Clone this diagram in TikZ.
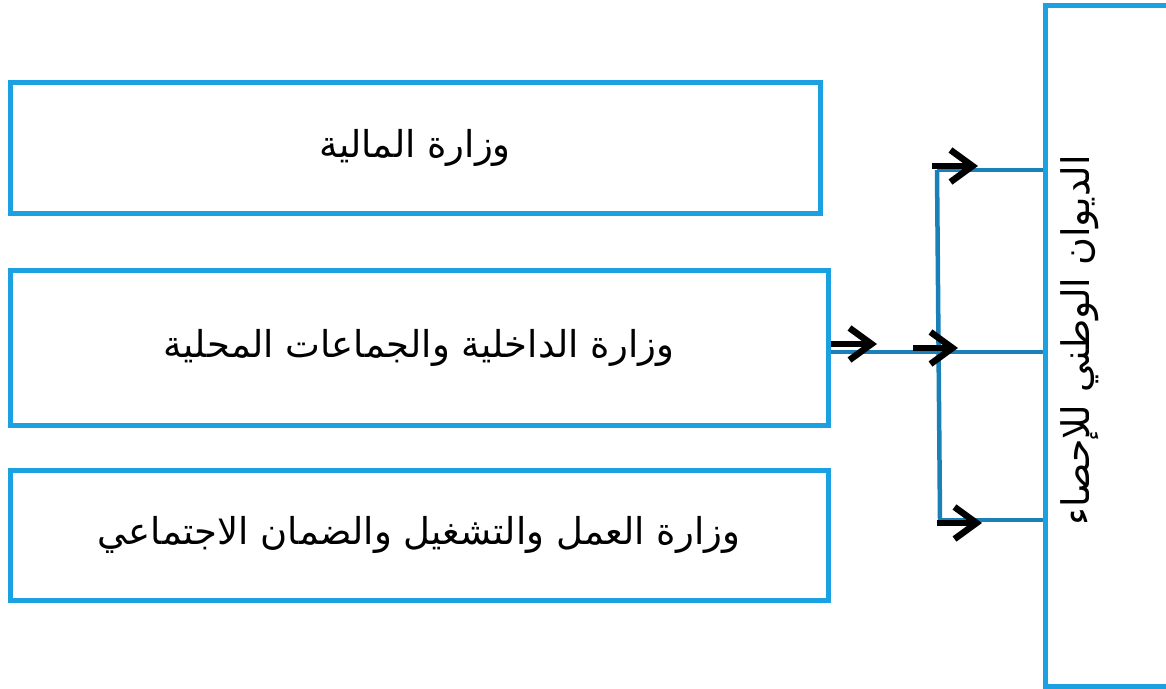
\documentclass[tikz,border=0pt]{standalone}
\usepackage{fontspec}
\newfontfamily\arabicfont[Script=Arabic]{DejaVu Sans}
\TeXXeTstate=1
\usetikzlibrary{arrows.meta}
\definecolor{boxblue}{HTML}{1BA1E2}
\definecolor{lineblue}{HTML}{1A80B8}
\tikzset{
  orgbox/.style={draw=boxblue, line width=5pt, fill=white, inner sep=0pt, font=\arabicfont\fontsize{37}{42}\selectfont},
  tree/.style={draw=lineblue, line width=4.5pt},
  blackarrow/.style={draw=black, line width=6.5pt, -{Straight Barb[length=22pt,width=32pt,line width=6.5pt]}}
}
\begin{document}
\begin{tikzpicture}[x=1pt,y=-1pt]
\useasboundingbox (0,0) rectangle (1166,688);
\clip (0,0) rectangle (1166,688);
\node[orgbox, minimum width=810pt, minimum height=131pt] (b1) at (415,147.5) {\beginR وزارة المالية\endR};
\node[orgbox, minimum width=818pt, minimum height=155pt] (b2) at (419,347.5) {\beginR وزارة الداخلية والجماعات المحلية\endR};
\node[orgbox, minimum width=818pt, minimum height=130pt] (b3) at (419,535) {\beginR وزارة العمل والتشغيل والضمان الاجتماعي\endR};
\node[orgbox, minimum width=150pt, minimum height=681pt] (ons) at (1120,345.5) {};
\node[font=\arabicfont\fontsize{38}{42}\selectfont, rotate=90] (onst) at (1080,340) {\beginR الديوان الوطني للإحصاء\endR};
% tree coordinates
\coordinate (jt) at (937,170);
\coordinate (jm) at (940,352);
\coordinate (jb) at (940,520);
\coordinate (ot) at (ons.west |- jt);
\coordinate (om) at (ons.west |- jm);
\coordinate (ob) at (ons.west |- jb);
\draw[tree] (b2.east |- jm) -- (jm) -- (om);
\draw[tree] (jt) -- (jb);
\draw[tree] (jt) -- (ot);
\draw[tree] (jb) -- (ob);
% black arrows
\coordinate (a1s) at (831,344);
\coordinate (a1e) at (877,344);
\coordinate (a2s) at (913,348);
\coordinate (a2e) at (958,348);
\coordinate (a3s) at (932,166);
\coordinate (a3e) at (978,166);
\coordinate (a4s) at (937,523);
\coordinate (a4e) at (982,523);
\draw[blackarrow] (a1s) -- (a1e);
\draw[blackarrow] (a2s) -- (a2e);
\draw[blackarrow] (a3s) -- (a3e);
\draw[blackarrow] (a4s) -- (a4e);
\end{tikzpicture}
\end{document}
